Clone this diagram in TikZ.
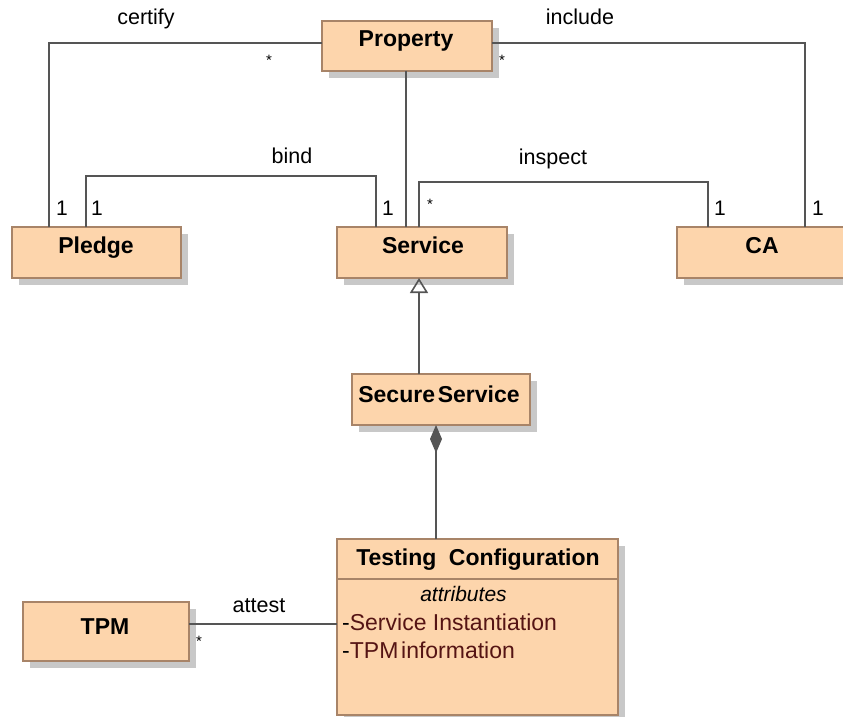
\documentclass[tikz,border=0pt]{standalone}
\usepackage{fontspec}
\setmainfont{Liberation Sans}
\usetikzlibrary{shadows,arrows.meta,calc}
\definecolor{boxfill}{RGB}{253,213,172}
\definecolor{boxline}{RGB}{168,132,104}
\definecolor{shadowgray}{RGB}{200,200,200}
\definecolor{wire}{RGB}{85,85,85}
\definecolor{attrred}{RGB}{85,20,20}
\tikzset{
  cls/.style={rectangle, draw=boxline, fill=boxfill, line width=1.6pt, inner sep=0pt, outer sep=0pt,
    drop shadow={shadow xshift=7pt, shadow yshift=-7pt, fill=shadowgray, opacity=1}},
  ttl/.style={anchor=base, inner sep=0pt, font=\fontsize{23}{27}\selectfont\bfseries},
  lbl/.style={anchor=base, inner sep=0pt, font=\fontsize{21.5}{25}\selectfont},
  mult/.style={anchor=base, inner sep=0pt, font=\fontsize{21}{25}\selectfont},
  star/.style={inner sep=0pt, font=\fontsize{15}{17}\selectfont},
  attr/.style={anchor=base west, inner sep=0pt, font=\fontsize{23}{27}\selectfont},
  conn/.style={draw=wire, line width=2pt},
}
\begin{document}
\begin{tikzpicture}[x=1pt,y=-1pt]
\useasboundingbox (0,0) rectangle (843,717);
\begin{scope}
\clip (0,0) rectangle (843,717);
% boxes
\node[cls, minimum width=170pt, minimum height=50pt] (prop) at (407,46) {};
\node[cls, minimum width=169pt, minimum height=51pt] (pledge) at (96.5,252.5) {};
\node[cls, minimum width=170pt, minimum height=51pt] (service) at (422,252.5) {};
\node[cls, minimum width=170pt, minimum height=51pt] (ca) at (762,252.5) {};
\node[cls, minimum width=178pt, minimum height=51pt] (secure) at (441,399.5) {};
\node[cls, minimum width=281pt, minimum height=176pt] (tc) at (477.5,627) {};
\node[cls, minimum width=166pt, minimum height=59pt] (tpm) at (106,631.5) {};
\end{scope}
\draw[boxline, line width=1.6pt] (tc.west |- 0,579) coordinate (sepL) -- (tc.east |- 0,579) coordinate (sepR);

% titles
\node[ttl] (tprop) at (406,47) {Property};
\node[ttl] (tpledge) at (96,253) {Pledge};
\node[ttl] (tservice) at (423,253) {Service};
\node[ttl] (tca) at (762,253) {CA};
\node[ttl] (tsecure) at (439,402) {Secure\hspace{0.12em}Service};
\node[ttl] (ttc) at (478,565) {Testing\hspace{0.55em}Configuration};
\node[ttl] (ttpm) at (105,634) {TPM};

% attributes
\node[anchor=base, inner sep=0pt, font=\fontsize{21}{25}\selectfont\itshape] (tattr) at (463.5,601) {attributes};
\node[attr] (a1) at (342,630) {-\textcolor{attrred}{Service Instantiation}};
\node[attr] (a2) at (342,658) {-\textcolor{attrred}{TPM\hspace{0.12em}information}};

% coordinates for connectors
\coordinate (pL) at (prop.west |- 0,43);
\coordinate (pR) at (prop.east |- 0,43);
\coordinate (pB) at (406,0 |- prop.south);
\coordinate (plA) at (49,0 |- pledge.north);
\coordinate (plB) at (86,0 |- pledge.north);
\coordinate (svA) at (376,0 |- service.north);
\coordinate (svB) at (406,0 |- service.north);
\coordinate (svC) at (419,0 |- service.north);
\coordinate (svD) at (419,0 |- service.south);
\coordinate (caA) at (708,0 |- ca.north);
\coordinate (caB) at (805,0 |- ca.north);
\coordinate (ssT) at (419,0 |- secure.north);
\coordinate (ssB) at (436,0 |- secure.south);
\coordinate (tcT) at (436,0 |- tc.north);
\coordinate (tpR) at (tpm.east |- 0,624);
\coordinate (tcL) at (tc.west |- 0,624);

% connectors
\draw[conn] (pL) -| (plA);
\draw[conn] (plB) |- (svA |- 0,176) -- (svA);
\draw[conn] (pB) -- (svB);
\draw[conn] (svC) |- (caA |- 0,182) -- (caA);
\draw[conn] (pR) -| (caB);
\draw[conn, -{Triangle[open, width=18pt, length=15pt, line width=1.6pt]}] (ssT) -- (svD);
\draw[conn, -{Diamond[width=12pt, length=28pt, fill=wire]}] (tcT) -- (ssB);
\draw[conn] (tpR) -- (tcL);

% association labels
\node[lbl] (lcert) at (146,25) {certify};
\node[lbl] (linc) at (580,25) {include};
\node[lbl] (lbind) at (292,163) {bind};
\node[lbl] (linsp) at (553,164) {inspect};
\node[lbl] (latt) at (259,612) {attest};

% multiplicities
\node[mult] (m1) at (62,215) {1};
\node[mult] (m2) at (97,215) {1};
\node[mult] (m3) at (388,215) {1};
\node[mult] (m4) at (720,215) {1};
\node[mult] (m5) at (818,215) {1};
\node[star] (s1) at (269,60) {*};
\node[star] (s2) at (502,60) {*};
\node[star] (s3) at (430,204) {*};
\node[star] (s4) at (199,641) {*};
\end{tikzpicture}
\end{document}
